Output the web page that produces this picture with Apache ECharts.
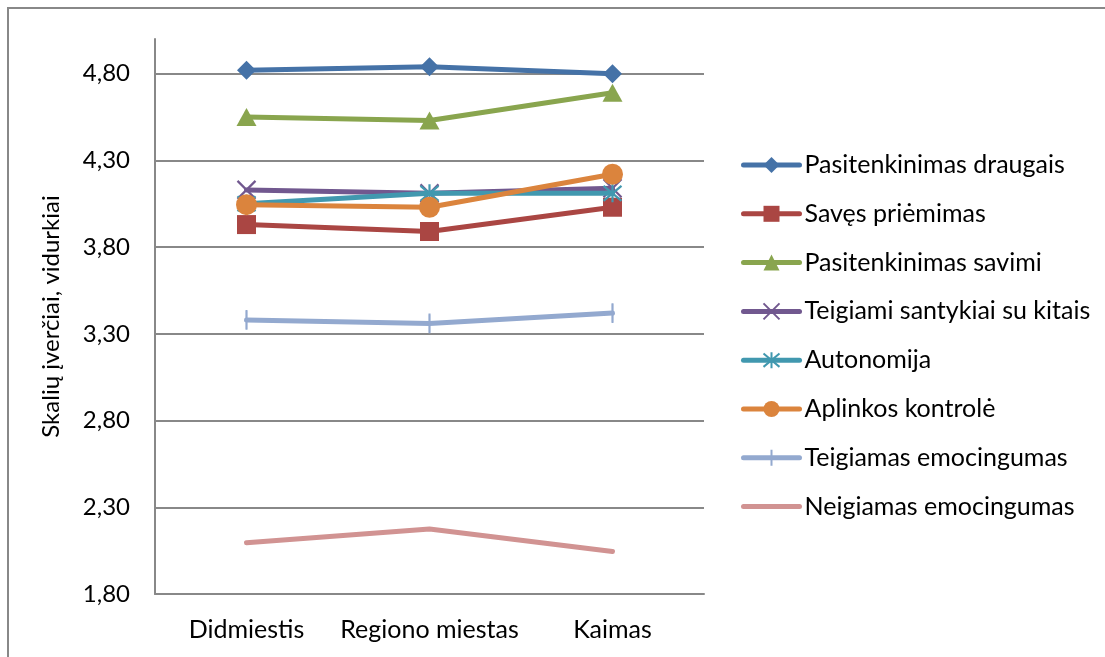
<!DOCTYPE html>
<html>
<head>
<meta charset="utf-8">
<script src="https://cdn.jsdelivr.net/npm/echarts@6/dist/echarts.min.js"></script>
<style>
html,body{margin:0;padding:0;background:#fff;}
#c{width:1105px;height:657px;}
</style>
</head>
<body>
<div id="c"></div>
<script>
const categories = ['Didmiestis', 'Regiono miestas', 'Kaimas'];
const seriesNames = ['Pasitenkinimas draugais', 'Savęs priėmimas', 'Pasitenkinimas savimi', 'Teigiami santykiai su kitais', 'Autonomija', 'Aplinkos kontrolė', 'Teigiamas emocingumas', 'Neigiamas emocingumas'];
const draugais = [4.82, 4.84, 4.80];
const savesPriemimas = [3.93, 3.89, 4.03];
const savimi = [4.55, 4.53, 4.69];
const santykiai = [4.13, 4.11, 4.14];
const autonomija = [4.05, 4.11, 4.11];
const kontrole = [4.045, 4.03, 4.22];
const teigiamasEmoc = [3.38, 3.36, 3.42];
const neigiamasEmoc = [2.095, 2.175, 2.045];
const yTicks = [1.8, 2.3, 2.8, 3.3, 3.8, 4.3, 4.8];

const seriesData = [draugais, savesPriemimas, savimi, santykiai, autonomija, kontrole, teigiamasEmoc, neigiamasEmoc];
const colors = ['#4572A7', '#AA4643', '#89A54E', '#71588F', '#4198AF', '#DB843D', '#93A9CF', '#D19392'];
const symbols = ['diamond', 'rect', 'triangle',
  'path://M0,0L10,10M10,0L0,10',
  'path://M0,0L10,10M10,0L0,10M5,-1L5,11',
  'circle',
  'path://M5,0L5,10M0,5L10,5',
  'circle'];
const symbolSizes = [[19,19],[19,19],[20,18],[18,18],[18,18],[21,21],[2,18],[0,0]];
const stroked = [false,false,false,true,true,false,true,false];
const hidden = [false,false,false,false,false,false,false,true];

const FONT = 'Lato';

const series = seriesNames.map((name, i) => ({
  name: name,
  type: 'line',
  data: seriesData[i],
  symbol: symbols[i],
  symbolSize: symbolSizes[i],
  showSymbol: !hidden[i],
  symbolKeepAspect: false,
  z: 2 + i,
  lineStyle: { color: colors[i], width: 5, cap: 'round', join: 'round' },
  itemStyle: hidden[i]
    ? { color: 'rgba(0,0,0,0)', borderWidth: 0 }
    : stroked[i]
      ? { color: 'rgba(0,0,0,0)', borderColor: colors[i], borderWidth: 2.2 }
      : { color: colors[i], borderWidth: 0 },
  emphasis: { disabled: true },
  animation: false
}));

const chart = echarts.init(document.getElementById('c'), null, { renderer: 'canvas' });
chart.setOption({
  animation: false,
  backgroundColor: '#fff',
  textStyle: { fontFamily: FONT },
  graphic: [{
    type: 'rect',
    shape: { x: 8, y: 8, width: 1200, height: 700 },
    style: { fill: 'none', stroke: '#888', lineWidth: 2 },
    z: -1, silent: true
  }],
  grid: { left: 155, right: 401, top: 39, bottom: 63, containLabel: false },
  legend: {
    orient: 'vertical',
    left: 736,
    top: 147,
    itemWidth: 56,
    itemHeight: 20,
    itemGap: 22.8,
    lineStyle: { width: 5 },
    textStyle: { fontFamily: FONT, fontSize: 25, color: '#000', lineHeight: 26 },
    data: seriesNames,
    selectedMode: false
  },
  xAxis: {
    type: 'category',
    data: categories,
    boundaryGap: true,
    axisLine: { show: true, lineStyle: { color: '#888', width: 2 } },
    axisTick: { show: false },
    axisLabel: { fontFamily: FONT, fontSize: 25, color: '#000', margin: 23, interval: 0 },
    splitLine: { show: false }
  },
  yAxis: {
    type: 'value',
    min: 1.8,
    max: 5.0,
    interval: 0.5,
    name: 'Skalių įverčiai, vidurkiai',
    nameLocation: 'middle',
    nameRotate: 90,
    nameGap: 92,
    nameTextStyle: { fontFamily: FONT, fontSize: 24, color: '#000' },
    axisLine: { show: true, lineStyle: { color: '#888', width: 2 } },
    axisTick: { show: false },
    axisLabel: {
      fontFamily: FONT, fontSize: 24, color: '#000', margin: 25,
      showMaxLabel: false,
      formatter: v => yTicks.some(t => Math.abs(t - v) < 1e-6) ? v.toFixed(2).replace('.', ',') : ''
    },
    splitLine: { show: true, showMaxLine: false, lineStyle: { color: '#888', width: 2 } }
  },
  series: series
});
</script>
</body>
</html>
